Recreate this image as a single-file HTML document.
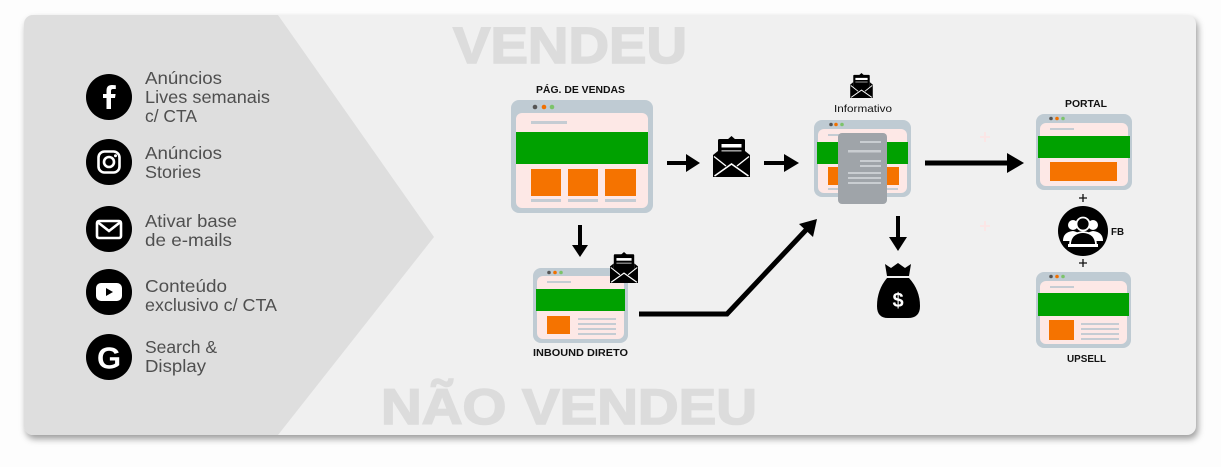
<!DOCTYPE html>
<html><head><meta charset="utf-8"><style>
html,body{margin:0;padding:0;background:#fdfdfd;}
body{width:1221px;height:467px;position:relative;overflow:hidden;}
#card{position:absolute;left:24px;top:15px;width:1172px;height:420px;border-radius:9px;background:#f0f0f0;box-shadow:2px 4px 7px rgba(0,0,0,0.38);overflow:hidden;}
svg{position:absolute;left:0;top:0;}
text{font-family:"Liberation Sans",sans-serif;}
</style></head><body>
<div id="card"></div>
<svg width="1221" height="467" viewBox="0 0 1221 467" xmlns="http://www.w3.org/2000/svg">
<defs>
<clipPath id="cc"><rect x="24" y="15" width="1172" height="420" rx="9"/></clipPath>
<symbol id="env" viewBox="0 0 37 41">
  <polygon points="14,4 18.5,0 23,4" fill="#000"/>
  <rect x="5" y="3" width="27" height="22" rx="1.5" fill="#000"/>
  <rect x="8.5" y="8" width="20" height="3.5" fill="#fff"/>
  <rect x="8.5" y="14" width="20" height="1.6" fill="#9a9a9a"/>
  <path d="M0,19 L5,15 L5,24 L32,24 L32,15 L37,19 L37,41 L0,41 Z" fill="#000"/>
  <path d="M1.5,40 L18.5,28 L35.5,40" stroke="#fff" stroke-width="1.6" fill="none"/>
  <path d="M1,20.5 L13,30 M36,20.5 L24,30" stroke="#fff" stroke-width="1.4" fill="none"/>
</symbol>
</defs>
<g clip-path="url(#cc)">
  <polygon points="24,15 278,15 434,237 278,435 24,435" fill="#dedede"/>
</g>

<!-- big titles -->
<text x="453" y="63" font-size="51" font-weight="bold" fill="#dcdcdc" stroke="#dcdcdc" stroke-width="1.6" textLength="234" lengthAdjust="spacingAndGlyphs">VENDEU</text>
<text x="381" y="424" font-size="50" font-weight="bold" fill="#dcdcdc" stroke="#dcdcdc" stroke-width="1.6" textLength="376" lengthAdjust="spacingAndGlyphs">NÃO VENDEU</text>

<!-- left icons -->
<g fill="#000">
  <circle cx="109" cy="97" r="23"/>
  <circle cx="109" cy="162" r="23"/>
  <circle cx="109" cy="229" r="23"/>
  <circle cx="109" cy="292" r="23"/>
  <circle cx="109" cy="357" r="23"/>
</g>
<path d="M111,109 L111,98 L115,98 L115.6,94 L111,94 L111,91 Q111,89 113,89 L115.8,89 L115.8,85.3 Q114,85 112,85 Q106.5,85 106.5,90.5 L106.5,94 L103,94 L103,98 L106.5,98 L106.5,109 Z" fill="#fff"/>
<rect x="98.5" y="151.5" width="21" height="21" rx="6" fill="none" stroke="#fff" stroke-width="2.6"/>
<circle cx="109" cy="162" r="5" fill="none" stroke="#fff" stroke-width="2.6"/>
<circle cx="115.5" cy="155.8" r="1.5" fill="#fff"/>
<rect x="97" y="221" width="24" height="17" rx="2" fill="none" stroke="#fff" stroke-width="2.6"/>
<path d="M97.5,222 L109,231 L120.5,222" fill="none" stroke="#fff" stroke-width="2.6"/>
<rect x="96" y="283" width="26" height="18" rx="5" fill="#fff"/>
<polygon points="106,288 106,296 113,292" fill="#000"/>
<text x="109" y="368.5" font-size="31" font-weight="bold" fill="#fff" text-anchor="middle">G</text>

<!-- left text -->
<g font-size="17.5" fill="#4f4f4f">
  <text x="145" y="84" textLength="77" lengthAdjust="spacingAndGlyphs">Anúncios</text>
  <text x="145" y="103" textLength="125" lengthAdjust="spacingAndGlyphs">Lives semanais</text>
  <text x="145" y="122" textLength="52" lengthAdjust="spacingAndGlyphs">c/ CTA</text>
  <text x="145" y="159" textLength="77" lengthAdjust="spacingAndGlyphs">Anúncios</text>
  <text x="145" y="178" textLength="56" lengthAdjust="spacingAndGlyphs">Stories</text>
  <text x="145" y="227" textLength="92" lengthAdjust="spacingAndGlyphs">Ativar base</text>
  <text x="145" y="246" textLength="87" lengthAdjust="spacingAndGlyphs">de e-mails</text>
  <text x="145" y="292" textLength="82" lengthAdjust="spacingAndGlyphs">Conteúdo</text>
  <text x="145" y="311" textLength="132" lengthAdjust="spacingAndGlyphs">exclusivo c/ CTA</text>
  <text x="145" y="353" textLength="72" lengthAdjust="spacingAndGlyphs">Search &amp;</text>
  <text x="145" y="372" textLength="61" lengthAdjust="spacingAndGlyphs">Display</text>
</g>

<!-- labels -->
<g font-size="10" font-weight="bold" fill="#111">
  <text x="536" y="93" textLength="89" lengthAdjust="spacingAndGlyphs">PÁG. DE VENDAS</text>
  <text x="533" y="356" textLength="95" lengthAdjust="spacingAndGlyphs">INBOUND DIRETO</text>
  <text x="1065" y="107" textLength="42" lengthAdjust="spacingAndGlyphs">PORTAL</text>
  <text x="1067" y="362" textLength="39" lengthAdjust="spacingAndGlyphs">UPSELL</text>
  <text x="1111" y="235" textLength="13" lengthAdjust="spacingAndGlyphs">FB</text>
</g>
<text x="834" y="112" font-size="10.5" fill="#111" textLength="58" lengthAdjust="spacingAndGlyphs">Informativo</text>

<!-- PAG DE VENDAS window -->
<rect x="511" y="100" width="142" height="113" rx="8" fill="#bfcbd3"/>
<rect x="516" y="113" width="132" height="95" rx="6" fill="#fde8e6"/>
<circle cx="535" cy="107" r="2.3" fill="#555"/><circle cx="544" cy="107" r="2.3" fill="#f07000"/><circle cx="552" cy="107" r="2.3" fill="#7cc36a"/>
<rect x="531" y="121" width="36" height="3" fill="#c5ccd3"/>
<rect x="516" y="132" width="132" height="32" fill="#00a100"/>
<rect x="531" y="169" width="30" height="27" fill="#f57300"/>
<rect x="568" y="169" width="30" height="27" fill="#f57300"/>
<rect x="605" y="169" width="31" height="27" fill="#f57300"/>
<rect x="531" y="199" width="30" height="3" fill="#c5ccd3"/>
<rect x="568" y="199" width="30" height="3" fill="#c5ccd3"/>
<rect x="605" y="199" width="31" height="3" fill="#c5ccd3"/>

<!-- INBOUND window -->
<rect x="533" y="268" width="95" height="75" rx="8" fill="#bfcbd3"/>
<rect x="537" y="276" width="87" height="63" rx="6" fill="#fde8e6"/>
<circle cx="549" cy="272.5" r="1.8" fill="#555"/><circle cx="555" cy="272.5" r="1.8" fill="#f07000"/><circle cx="561" cy="272.5" r="1.8" fill="#7cc36a"/>
<rect x="547" y="281" width="24" height="2" fill="#c5ccd3"/>
<rect x="536" y="289" width="89" height="22" fill="#00a100"/>
<rect x="547" y="316" width="23" height="18" fill="#f57300"/>
<g fill="#c5ccd3"><rect x="578" y="318" width="38" height="2"/><rect x="578" y="323" width="38" height="2"/><rect x="578" y="328" width="38" height="2"/><rect x="578" y="333" width="38" height="2"/></g>
<use href="#env" x="610" y="252" width="28" height="31"/>

<!-- INFORMATIVO window -->
<rect x="814" y="120" width="97" height="77" rx="8" fill="#bfcbd3"/>
<rect x="818" y="129" width="89" height="64" rx="6" fill="#fde8e6"/>
<circle cx="831" cy="124.5" r="1.8" fill="#555"/><circle cx="836" cy="124.5" r="1.8" fill="#f07000"/><circle cx="842" cy="124.5" r="1.8" fill="#7cc36a"/>
<rect x="828" y="134" width="24" height="2" fill="#c5ccd3"/>
<rect x="817" y="142" width="91" height="22" fill="#00a100"/>
<rect x="828" y="167" width="12" height="18" fill="#f57300"/>
<rect x="885" y="167" width="14" height="18" fill="#f57300"/>
<rect x="828" y="188" width="70" height="2" fill="#c5ccd3"/>
<rect x="838" y="133" width="49" height="71" rx="4" fill="#9fa4a9"/>
<g fill="#c9cdd1">
  <rect x="860" y="141" width="21" height="2"/>
  <rect x="848" y="150" width="33" height="2.5"/>
  <rect x="860" y="160" width="21" height="2"/>
  <rect x="860" y="165" width="21" height="2"/>
  <rect x="848" y="172" width="33" height="2"/>
  <rect x="848" y="177" width="33" height="2"/>
  <rect x="848" y="182" width="33" height="2"/>
</g>
<use href="#env" x="850" y="73" width="23" height="25"/>

<!-- PORTAL window -->
<rect x="1036" y="114" width="96" height="76" rx="8" fill="#bfcbd3"/>
<rect x="1040" y="123" width="88" height="63" rx="6" fill="#fde8e6"/>
<circle cx="1051" cy="118.5" r="1.8" fill="#555"/><circle cx="1057" cy="118.5" r="1.8" fill="#f07000"/><circle cx="1063" cy="118.5" r="1.8" fill="#7cc36a"/>
<rect x="1050" y="128" width="24" height="2" fill="#c5ccd3"/>
<rect x="1038" y="136" width="92" height="22" fill="#00a100"/>
<rect x="1050" y="162" width="67" height="19" fill="#f57300"/>

<!-- UPSELL window -->
<rect x="1036" y="272" width="95" height="76" rx="8" fill="#bfcbd3"/>
<rect x="1040" y="281" width="87" height="63" rx="6" fill="#fde8e6"/>
<circle cx="1051" cy="276.5" r="1.8" fill="#555"/><circle cx="1057" cy="276.5" r="1.8" fill="#f07000"/><circle cx="1063" cy="276.5" r="1.8" fill="#7cc36a"/>
<rect x="1050" y="286" width="24" height="2" fill="#c5ccd3"/>
<rect x="1038" y="293" width="91" height="23" fill="#00a100"/>
<rect x="1049" y="320" width="25" height="20" fill="#f57300"/>
<g fill="#c5ccd3"><rect x="1081" y="323" width="38" height="2"/><rect x="1081" y="328" width="38" height="2"/><rect x="1081" y="333" width="38" height="2"/><rect x="1081" y="338" width="38" height="2"/></g>

<!-- pluses -->
<g stroke="#111" stroke-width="1.3">
  <path d="M1079,198 H1087 M1083,194 V202"/>
  <path d="M1079,263 H1087 M1083,259 V267"/>
</g>
<g stroke="#fbe6e6" stroke-width="2">
  <path d="M980,137 H990 M985,132 V142"/>
  <path d="M980,226 H990 M985,221 V231"/>
</g>

<!-- FB circle -->
<circle cx="1083" cy="231" r="25" fill="#000"/>
<g fill="#fff" stroke="#fff">
  <circle cx="1073" cy="225" r="5" stroke="none"/>
  <circle cx="1093" cy="225" r="5" stroke="none"/>
  <path d="M1063,241 Q1063,232 1073,231 Q1080,232 1081,238 L1081,241 Z" stroke="none"/>
  <path d="M1103,241 Q1103,232 1093,231 Q1086,232 1085,238 L1085,241 Z" stroke="none"/>
</g>
<circle cx="1083" cy="224" r="6.5" fill="#000" stroke="#fff" stroke-width="1.8"/>
<path d="M1070,245 Q1070,233 1083,232 Q1096,233 1096,245 Z" fill="#000" stroke="#fff" stroke-width="1.8"/>
<rect x="1068" y="244" width="30" height="3" fill="#fff"/>

<!-- arrows -->
<g fill="#000">
  <rect x="667" y="161" width="22" height="4"/>
  <polygon points="686,154 700,163 686,172"/>
  <use href="#env" x="713" y="136" width="37" height="41"/>
  <rect x="764" y="161" width="22" height="4"/>
  <polygon points="784,154 799,163 784,172"/>
  <rect x="925" y="160.5" width="88" height="5"/>
  <polygon points="1007,153 1024,163 1007,173"/>
  <rect x="578" y="225" width="4" height="21"/>
  <polygon points="572,245 588,245 580,257"/>
  <rect x="896" y="216" width="4" height="22"/>
  <polygon points="889,237 907,237 898,251"/>
</g>
<polyline points="639,314 727,314 806,230" fill="none" stroke="#000" stroke-width="5"/>
<polygon points="817,219 813,237 799,224" fill="#000"/>

<!-- money bag -->
<path d="M885,264 L891,268 L898,263 L905,268 L911,264 L909,276 L887,276 Z" fill="#000"/>
<path d="M887,278 L909,278 Q920,290 920,306 Q920,318 908,318 L888,318 Q877,318 877,306 Q877,290 887,278 Z" fill="#000"/>
<text x="898" y="307" font-size="20" font-weight="bold" fill="#fff" text-anchor="middle">$</text>
</svg>
</body></html>
